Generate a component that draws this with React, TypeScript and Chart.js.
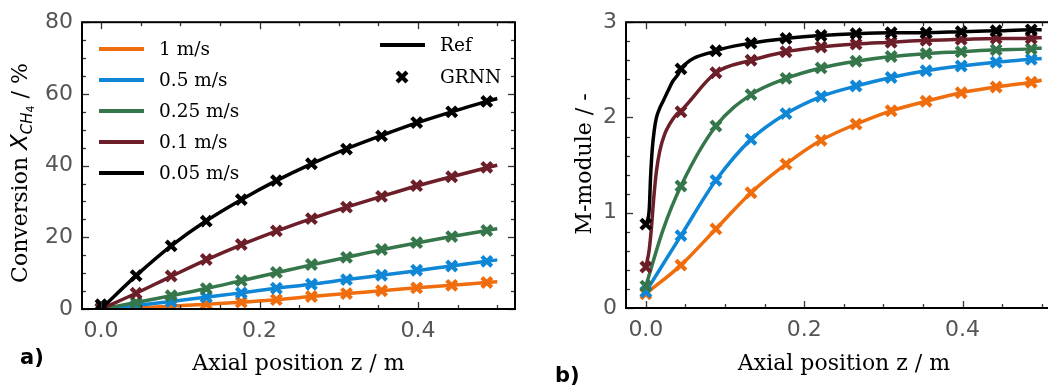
import React, { useEffect, useRef } from "react";
import { Chart, registerables } from "chart.js";
Chart.register(...registerables);

// ---------------- data ----------------
const seriesLabels = ["1 m/s", "0.5 m/s", "0.25 m/s", "0.1 m/s", "0.05 m/s"];
const seriesColors = ["#ef6d0c", "#0f87d6", "#35764a", "#6c1f29", "#000000"];

// GRNN sample positions (both panels)
const zGrnn = [0, 0.0443, 0.0885, 0.1328, 0.177, 0.2213, 0.2655, 0.3098, 0.354, 0.3983, 0.4425, 0.4868];

// Panel a) conversion X_CH4 / %
const zRefA = [0, 0.0443, 0.0885, 0.1328, 0.177, 0.2213, 0.2655, 0.3098, 0.354, 0.3983, 0.4425, 0.4868, 0.5];
const convRef1 = [0, 0.3, 0.8, 1.3, 1.9, 2.6, 3.5, 4.3, 5.1, 5.9, 6.6, 7.4, 7.6];
const convRef05 = [0, 1.0, 2.1, 3.3, 4.5, 5.8, 6.9, 8.2, 9.4, 10.7, 12.0, 13.3, 13.7];
const convRef025 = [0, 1.8, 3.7, 5.7, 7.9, 10.1, 12.3, 14.4, 16.5, 18.4, 20.2, 21.9, 22.4];
const convRef01 = [0, 4.4, 9.1, 13.7, 17.9, 21.7, 25.2, 28.4, 31.4, 34.3, 36.9, 39.4, 40.1];
const convRef005 = [0, 9.3, 17.6, 24.6, 30.5, 35.8, 40.5, 44.7, 48.4, 51.9, 55.0, 57.9, 58.7];

const convGrnn1 = [0.1, 0.4, 0.9, 1.4, 1.9, 2.6, 3.5, 4.3, 5.1, 5.9, 6.6, 7.4];
const convGrnn05 = [0.1, 1.0, 2.1, 3.3, 4.5, 5.8, 6.9, 8.2, 9.4, 10.8, 12.0, 13.3];
const convGrnn025 = [0.1, 1.8, 3.7, 5.7, 7.9, 10.2, 12.4, 14.4, 16.6, 18.5, 20.2, 21.9];
const convGrnn01 = [0.3, 4.4, 9.2, 13.8, 18.0, 21.8, 25.2, 28.4, 31.4, 34.4, 36.9, 39.5];
const convGrnn005 = [1.2, 9.3, 17.6, 24.5, 30.5, 35.8, 40.5, 44.6, 48.3, 52.0, 55.0, 57.9];

// Panel b) M-module / -
const zRefB1 = [0, 0.0443, 0.0885, 0.1328, 0.177, 0.2213, 0.2655, 0.3098, 0.354, 0.3983, 0.4425, 0.4868, 0.5];
const mRef1 = [0.15, 0.45, 0.83, 1.21, 1.51, 1.76, 1.93, 2.07, 2.17, 2.26, 2.32, 2.37, 2.39];
const zRefB05 = [0, 0.0443, 0.0885, 0.1328, 0.177, 0.2213, 0.2655, 0.3098, 0.354, 0.3983, 0.4425, 0.4868, 0.5];
const mRef05 = [0.17, 0.76, 1.34, 1.77, 2.04, 2.22, 2.33, 2.42, 2.49, 2.54, 2.58, 2.61, 2.62];
const zRefB025 = [0, 0.0217, 0.0443, 0.0885, 0.1328, 0.177, 0.2213, 0.2655, 0.3098, 0.354, 0.3983, 0.4425, 0.4868, 0.5];
const mRef025 = [0.23, 0.82, 1.28, 1.91, 2.24, 2.41, 2.52, 2.59, 2.64, 2.67, 2.69, 2.71, 2.72, 2.73];
const zRefB01 = [0, 0.0042, 0.0071, 0.01, 0.0134, 0.0176, 0.024, 0.03, 0.0385, 0.0443, 0.0885, 0.1328, 0.177, 0.2213, 0.2655, 0.3098, 0.354, 0.3983, 0.4425, 0.4868, 0.5];
const mRef01 = [0.43, 0.61, 0.85, 1.16, 1.44, 1.65, 1.83, 1.93, 2.03, 2.07, 2.47, 2.6, 2.69, 2.74, 2.77, 2.79, 2.81, 2.82, 2.83, 2.83, 2.84];
const zRefB005 = [0, 0.0042, 0.0059, 0.0079, 0.0105, 0.0134, 0.0176, 0.0217, 0.028, 0.034, 0.0405, 0.0443, 0.0885, 0.1328, 0.177, 0.2213, 0.2655, 0.3098, 0.354, 0.3983, 0.4425, 0.4868, 0.5];
const mRef005 = [0.88, 1.03, 1.37, 1.65, 1.86, 2.0, 2.1, 2.17, 2.28, 2.38, 2.45, 2.51, 2.7, 2.78, 2.83, 2.86, 2.88, 2.89, 2.89, 2.9, 2.91, 2.92, 2.92];

const mGrnn1 = [0.15, 0.45, 0.83, 1.21, 1.51, 1.76, 1.93, 2.07, 2.17, 2.26, 2.32, 2.37];
const mGrnn05 = [0.17, 0.76, 1.34, 1.77, 2.04, 2.22, 2.33, 2.42, 2.49, 2.54, 2.58, 2.61];
const mGrnn025 = [0.23, 1.28, 1.91, 2.24, 2.41, 2.52, 2.59, 2.64, 2.67, 2.69, 2.71, 2.72];
const mGrnn01 = [0.43, 2.06, 2.47, 2.6, 2.69, 2.74, 2.77, 2.79, 2.81, 2.82, 2.83, 2.83];
const mGrnn005 = [0.88, 2.51, 2.7, 2.78, 2.83, 2.86, 2.88, 2.89, 2.89, 2.9, 2.91, 2.92];

// ticks
const xTicks = [0, 0.2, 0.4];
const yTicksA = [0, 20, 40, 60, 80];
const yTicksB = [0, 1, 2, 3];

const legendRefLabel = "Ref";
const legendGrnnLabel = "GRNN";

// ---------------- helpers ----------------
const SERIF = "'DejaVu Serif', serif";
const SANS = "'DejaVu Sans', sans-serif";

function pts(xs: number[], ys: number[]) {
  return xs.map((x, i) => ({ x, y: ys[i] }));
}

function buildDatasets(refZ: number[][], refV: number[][], grnnV: number[][]) {
  const ds: any[] = [];
  seriesLabels.forEach((label, i) => {
    const c = seriesColors[i];
    ds.push({
      label,
      data: pts(refZ[i], refV[i]),
      borderColor: c,
      backgroundColor: c,
      borderWidth: 3.5,
      pointRadius: 0,
      pointHoverRadius: 0,
      cubicInterpolationMode: "monotone",
      order: (4 - i) * 2 + 1,
      isRef: true,
    });
    ds.push({
      label: label + " GRNN",
      data: pts(zGrnn, grnnV[i]),
      showLine: false,
      borderColor: c,
      backgroundColor: c,
      pointStyle: "crossRot",
      pointRadius: 7,
      pointBorderWidth: 4.2,
      pointHoverRadius: 7,
      order: (4 - i) * 2,
      isRef: false,
    });
  });
  return ds;
}

type Part = { t: string; font: string; dy?: number };

function drawParts(ctx: CanvasRenderingContext2D, parts: Part[], cx: number, cy: number, rotate: boolean) {
  ctx.save();
  let total = 0;
  for (const p of parts) {
    ctx.font = p.font;
    total += ctx.measureText(p.t).width;
  }
  ctx.translate(cx, cy);
  if (rotate) ctx.rotate(-Math.PI / 2);
  ctx.fillStyle = "#000";
  ctx.textBaseline = "alphabetic";
  ctx.textAlign = "left";
  let u = -total / 2;
  for (const p of parts) {
    ctx.font = p.font;
    ctx.fillText(p.t, u, p.dy || 0);
    u += ctx.measureText(p.t).width;
  }
  ctx.restore();
}

function rangeSteps(min: number, max: number, step: number) {
  const out: number[] = [];
  const k0 = Math.ceil(min / step - 1e-9);
  const k1 = Math.floor(max / step + 1e-9);
  for (let k = k0; k <= k1; k++) out.push(+(k * step).toFixed(6));
  return out;
}

function makeDeco(cfg: any) {
  return {
    id: "deco" + cfg.name,
    afterDraw(chart: any) {
      const ctx: CanvasRenderingContext2D = chart.ctx;
      const a = chart.chartArea;
      const xs = chart.scales.x;
      const ys = chart.scales.y;
      ctx.save();
      // inward ticks on all four sides
      ctx.strokeStyle = "#333";
      ctx.lineWidth = 1.3;
      const line = (x1: number, y1: number, x2: number, y2: number) => {
        ctx.beginPath();
        ctx.moveTo(x1, y1);
        ctx.lineTo(x2, y2);
        ctx.stroke();
      };
      const isMajor = (arr: number[], v: number) => arr.some((m) => Math.abs(m - v) < 1e-6);
      for (const v of rangeSteps(xs.min, xs.max, 0.05)) {
        const p = Math.round(xs.getPixelForValue(v)) + 0.5;
        const len = isMajor(xTicks, v) ? 7 : 4;
        line(p, a.bottom, p, a.bottom - len);
        line(p, a.top, p, a.top + len);
      }
      for (const v of rangeSteps(ys.min, ys.max, cfg.yMinor)) {
        const p = Math.round(ys.getPixelForValue(v)) + 0.5;
        const len = isMajor(cfg.yMajor, v) ? 7 : 4;
        line(a.left, p, a.left + len, p);
        line(a.right, p, a.right - len, p);
      }
      // spines
      ctx.strokeStyle = "#000";
      ctx.lineWidth = 2;
      ctx.strokeRect(a.left, a.top, a.right - a.left, a.bottom - a.top);
      ctx.restore();

      // axis titles
      drawParts(ctx, [{ t: "Axial position z / m", font: `22px ${SERIF}` }], cfg.xTitleX, 370, false);
      drawParts(ctx, cfg.yTitle, cfg.yTitleX, cfg.yTitleY, true);

      // panel label
      ctx.save();
      ctx.font = `bold 21px ${SANS}`;
      ctx.fillStyle = "#000";
      ctx.textBaseline = "middle";
      ctx.textAlign = "left";
      ctx.fillText(cfg.panel, cfg.panelX, cfg.panelY);
      ctx.restore();

      if (cfg.legend) {
        ctx.save();
        const refSets = chart.data.datasets.filter((d: any) => d.isRef);
        refSets.forEach((d: any, i: number) => {
          const y = 49 + 31 * i;
          ctx.strokeStyle = d.borderColor;
          ctx.lineWidth = 4;
          line(99, y, 144, y);
          ctx.fillStyle = "#000";
          ctx.font = `18.5px ${SERIF}`;
          ctx.textBaseline = "middle";
          ctx.fillText(d.label, 159, y + 1);
        });
        // Ref / GRNN legend
        ctx.strokeStyle = "#000";
        ctx.lineWidth = 4;
        line(380, 45, 425, 45);
        ctx.lineWidth = 4.2;
        const r = 7 * Math.SQRT1_2;
        line(402 - r, 77 - r, 402 + r, 77 + r);
        line(402 - r, 77 + r, 402 + r, 77 - r);
        ctx.fillStyle = "#000";
        ctx.font = `18.5px ${SERIF}`;
        ctx.textBaseline = "middle";
        ctx.fillText(legendRefLabel, 440, 46);
        ctx.fillText(legendGrnnLabel, 440, 78);
        ctx.restore();
      }
    },
  };
}

function makeChart(canvas: HTMLCanvasElement, cfg: any) {
  return new Chart(canvas, {
    type: "line",
    data: { datasets: cfg.datasets },
    options: {
      responsive: false,
      devicePixelRatio: 1,
      animation: false,
      events: [],
      layout: { padding: { top: 21, right: cfg.padRight, bottom: 0, left: 0 } },
      plugins: { legend: { display: false }, tooltip: { enabled: false } },
      scales: {
        x: {
          type: "linear",
          min: cfg.xMin,
          max: cfg.xMax,
          grid: { display: false, drawTicks: false },
          border: { display: false },
          afterBuildTicks: (s: any) => {
            s.ticks = xTicks.map((v) => ({ value: v }));
          },
          afterFit: (s: any) => {
            s.height = cfg.xHeight;
          },
          ticks: {
            padding: 9,
            color: "#555",
            font: { family: SANS, size: 22 },
            maxRotation: 0,
            autoSkip: false,
            callback: (v: any) => Number(v).toFixed(1),
          },
        },
        y: {
          type: "linear",
          min: cfg.yMin,
          max: cfg.yMax,
          grid: { display: false, drawTicks: false },
          border: { display: false },
          afterBuildTicks: (s: any) => {
            s.ticks = cfg.yMajor.map((v: number) => ({ value: v }));
          },
          afterFit: (s: any) => {
            s.width = cfg.yWidth;
          },
          ticks: {
            padding: 9,
            color: "#555",
            font: { family: SANS, size: 22 },
            autoSkip: false,
            callback: (v: any) => String(v),
          },
        },
      },
    } as any,
    plugins: [makeDeco(cfg)],
  });
}

export default function App() {
  const refA = useRef<HTMLCanvasElement>(null);
  const refB = useRef<HTMLCanvasElement>(null);

  useEffect(() => {
    const sub: Part[] = [
      { t: "Conversion ", font: `22px ${SERIF}` },
      { t: "X", font: `italic 23px ${SANS}` },
      { t: "CH", font: `italic 15px ${SANS}`, dy: 5 },
      { t: "4", font: `11px ${SANS}`, dy: 7 },
      { t: " / %", font: `22px ${SERIF}` },
    ];
    const chartA = makeChart(refA.current!, {
      name: "A",
      datasets: buildDatasets(
        [zRefA, zRefA, zRefA, zRefA, zRefA],
        [convRef1, convRef05, convRef025, convRef01, convRef005],
        [convGrnn1, convGrnn05, convGrnn025, convGrnn01, convGrnn005]
      ),
      padRight: 15,
      xMin: -0.024,
      xMax: 0.5224,
      yMin: 0,
      yMax: 80,
      yMajor: yTicksA,
      yMinor: 5,
      xHeight: 79,
      yWidth: 82,
      xTitleX: 298.5,
      yTitle: sub,
      yTitleX: 27,
      yTitleY: 173,
      panel: "a)",
      panelX: 20,
      panelY: 359,
      legend: true,
    });
    const chartB = makeChart(refB.current!, {
      name: "B",
      datasets: buildDatasets(
        [zRefB1, zRefB05, zRefB025, zRefB01, zRefB005],
        [mRef1, mRef05, mRef025, mRef01, mRef005],
        [mGrnn1, mGrnn05, mGrnn025, mGrnn01, mGrnn005]
      ),
      padRight: 8,
      xMin: -0.0251,
      xMax: 0.5216,
      yMin: 0,
      yMax: 3,
      yMajor: yTicksB,
      yMinor: 0.2,
      xHeight: 80,
      yWidth: 96,
      xTitleX: 314,
      yTitle: [{ t: "M-module / -", font: `22px ${SERIF}` }],
      yTitleX: 61,
      yTitleY: 164,
      panel: "b)",
      panelX: 25,
      panelY: 377,
      legend: false,
    });
    return () => {
      chartA.destroy();
      chartB.destroy();
    };
  }, []);

  return (
    <div
      style={{
        position: "fixed",
        left: 0,
        top: 0,
        width: 1048,
        height: 388,
        overflow: "hidden",
        background: "#fff",
      }}
    >
      <canvas ref={refA} width={530} height={388} style={{ position: "absolute", left: 0, top: 0, width: 530, height: 388 }} />
      <canvas ref={refB} width={540} height={388} style={{ position: "absolute", left: 530, top: 0, width: 540, height: 388 }} />
    </div>
  );
}
